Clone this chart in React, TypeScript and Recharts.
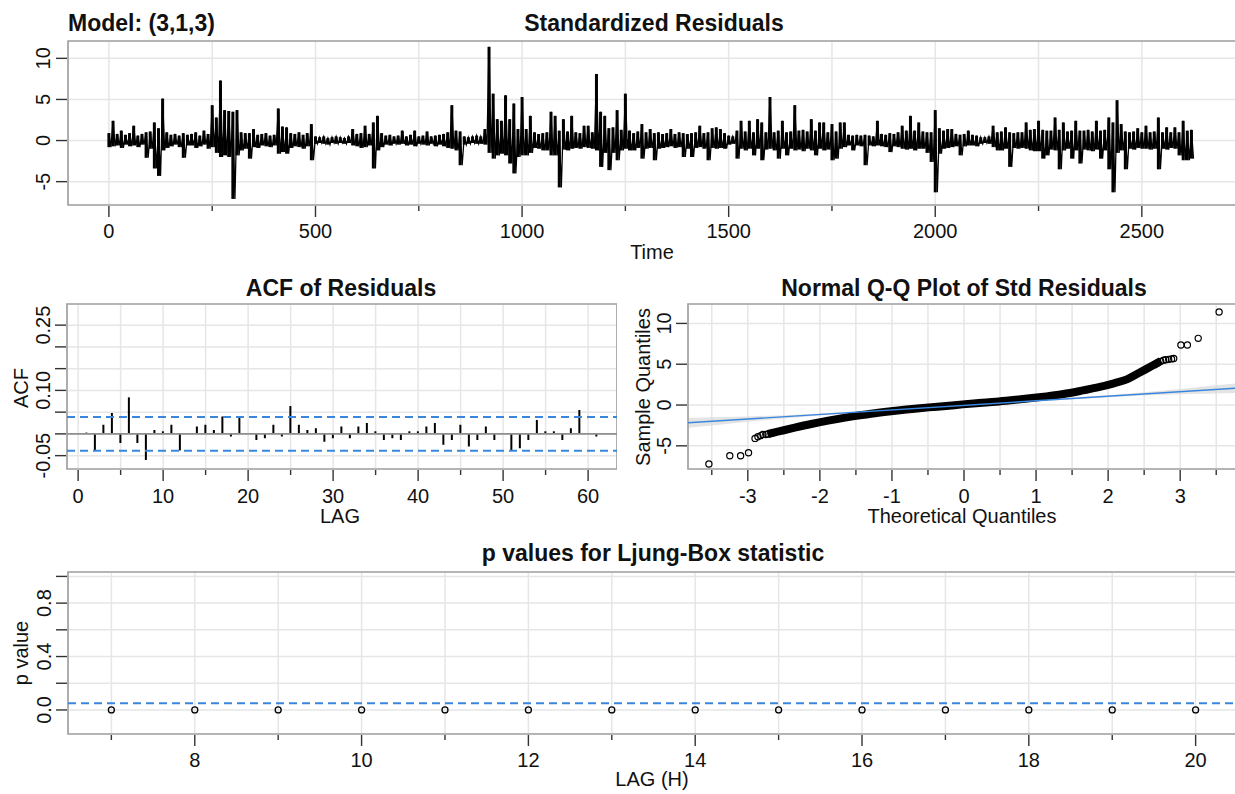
import React from "react";
import {
  ComposedChart,
  Line,
  Bar,
  Area,
  Scatter,
  XAxis,
  YAxis,
  CartesianGrid,
  ReferenceLine,
  ReferenceArea,
  ErrorBar,
} from "recharts";

const FONT = '"Liberation Sans", Arial, Helvetica, sans-serif';
const GRID = "#e6e6e6";
const BOX = "#a3a3a3";
const TICK = "#333333";
const TXT = "#111111";
const BLUE = "#3b86dd";

// ---------------- Standardized residuals (max / min per 10-step bin) ----------------
const residBinWidth = 10;
const residHigh = [
  0.9, 2.4, 0.8, 1.2, 0.7, 0.9, 1.8, 0.6, 0.8, 1.0,
  1.1, 2.2, 1.5, 5.1, 1.0, 0.7, 0.8, 0.6, 0.9, 0.7,
  0.8, 1.0, 0.6, 1.2, 0.8, 4.3, 2.8, 7.3, 3.7, 3.6,
  3.5, 3.7, 1.0, 0.9, 0.9, 1.4, 0.7, 0.8, 0.9, 0.6,
  0.7, 3.9, 1.7, 1.6, 0.9, 0.8, 1.0, 0.7, 0.9, 2.0,
  0.5, 0.4, 0.5, 0.3, 0.4, 0.5, 0.4, 0.3, 0.5, 1.4,
  0.8, 0.9, 1.8, 0.8, 2.2, 3.0, 0.9, 0.6, 0.7, 0.5,
  0.6, 1.2, 0.5, 0.7, 1.2, 0.5, 0.6, 1.1, 0.5, 0.6,
  0.7, 0.8, 1.0, 4.3, 1.2, 1.1, 0.5, 0.4, 0.5, 0.6,
  0.5, 1.4, 11.4, 5.7, 2.6, 2.4, 5.5, 2.6, 4.5, 1.4,
  5.3, 1.4, 3.0, 1.0, 0.8, 0.9, 1.0, 3.5, 3.0, 1.2,
  2.6, 1.1, 3.0, 1.0, 0.9, 1.8, 1.8, 1.0, 8.1, 3.5,
  3.0, 1.5, 1.6, 3.7, 1.3, 5.7, 1.2, 0.9, 1.1, 2.0,
  1.0, 1.4, 0.9, 1.0, 0.8, 0.9, 1.4, 0.8, 1.0, 0.9,
  0.8, 0.9, 1.0, 1.8, 0.9, 1.0, 1.5, 1.6, 1.4, 0.9,
  0.6, 0.5, 1.2, 2.4, 1.1, 2.4, 1.0, 2.6, 2.2, 1.0,
  5.3, 1.0, 1.2, 2.4, 1.0, 1.1, 4.3, 1.2, 1.3, 1.1,
  2.6, 1.2, 2.2, 2.2, 1.0, 2.0, 1.1, 2.2, 2.2, 0.7,
  0.6, 0.7, 0.6, 0.7, 0.6, 0.5, 2.4, 0.8, 0.7, 0.9,
  0.8, 1.0, 1.8, 1.2, 3.0, 1.2, 2.2, 1.1, 1.0, 1.0,
  3.7, 1.5, 1.2, 1.4, 1.4, 0.8, 0.7, 0.8, 1.2, 0.7,
  0.6, 0.4, 0.4, 0.5, 1.8, 1.0, 1.1, 1.6, 1.0, 0.9,
  1.0, 1.0, 2.2, 1.3, 1.4, 2.4, 1.3, 1.2, 1.2, 2.8,
  1.3, 2.2, 1.1, 1.2, 2.4, 1.2, 1.2, 1.3, 1.1, 2.4,
  1.2, 1.3, 2.8, 2.2, 4.9, 2.0, 1.1, 1.0, 1.1, 1.5,
  1.0, 1.8, 1.0, 1.1, 2.8, 1.0, 1.6, 1.0, 1.6, 1.0,
  2.4, 1.2, 1.3,
];
const residLow = [
  -0.8, -0.7, -0.6, -0.9, -0.5, -0.7, -0.6, -0.8, -0.5, -2.1,
  -1.0, -3.4, -4.3, -1.2, -0.9, -0.7, -0.5, -0.8, -2.1, -0.6,
  -0.6, -0.9, -0.7, -0.5, -1.0, -0.8, -1.5, -2.0, -1.8, -2.0,
  -7.1, -1.8, -1.2, -1.0, -2.2, -0.8, -0.9, -0.6, -0.7, -0.8,
  -0.6, -1.6, -1.4, -1.6, -0.9, -0.7, -0.8, -1.0, -0.7, -2.4,
  -0.4, -0.3, -0.4, -0.5, -0.3, -0.4, -0.3, -0.4, -0.3, -0.6,
  -0.7, -0.9, -0.8, -0.6, -3.4, -1.2, -0.8, -0.5, -0.6, -0.4,
  -0.5, -0.4, -0.6, -0.5, -0.7, -0.4, -0.5, -0.6, -0.4, -0.7,
  -0.5, -0.7, -0.9, -1.0, -1.2, -3.0, -0.5, -0.4, -0.3, -0.4,
  -0.4, -0.5, -1.5, -2.2, -1.8, -1.6, -1.8, -2.8, -4.0, -2.0,
  -1.8, -1.8, -1.5, -0.9, -1.0, -1.2, -1.2, -1.8, -1.8, -5.7,
  -1.1, -1.2, -1.0, -0.9, -1.0, -0.8, -0.9, -1.0, -1.2, -3.2,
  -1.5, -3.6, -1.5, -2.4, -1.2, -1.0, -1.2, -1.2, -0.9, -2.2,
  -1.0, -0.9, -2.4, -1.0, -0.9, -0.8, -0.7, -0.9, -0.8, -2.0,
  -1.0, -2.0, -0.9, -0.8, -1.0, -2.4, -0.9, -1.0, -0.9, -1.0,
  -0.5, -0.4, -2.2, -1.0, -1.2, -1.0, -1.8, -1.0, -2.4, -1.1,
  -1.0, -1.2, -2.2, -1.0, -1.8, -1.0, -1.2, -1.1, -1.3, -1.0,
  -1.2, -1.8, -1.0, -1.2, -1.1, -2.4, -2.2, -1.0, -0.8, -0.6,
  -1.2, -0.6, -0.7, -3.0, -0.6, -0.7, -0.6, -0.7, -0.8, -1.4,
  -0.7, -0.8, -1.0, -1.1, -1.0, -1.2, -1.0, -1.0, -1.5, -2.6,
  -6.3, -1.6, -1.0, -0.9, -0.8, -0.7, -1.8, -0.7, -0.6, -0.6,
  -0.7, -0.4, -0.3, -0.4, -0.8, -1.2, -1.2, -1.0, -3.2, -0.9,
  -1.0, -0.9, -1.0, -1.2, -1.3, -1.3, -2.2, -1.8, -1.1, -1.2,
  -3.5, -1.2, -1.0, -2.2, -1.2, -2.8, -1.1, -1.2, -1.3, -1.1,
  -2.2, -1.2, -3.5, -6.3, -1.5, -1.2, -3.5, -1.0, -1.1, -0.9,
  -1.0, -1.0, -1.1, -1.0, -3.5, -1.0, -1.1, -0.9, -1.0, -1.8,
  -2.4, -2.4, -2.2,
];
const residXTicks = [0, 250, 500, 750, 1000, 1250, 1500, 1750, 2000, 2250, 2500];
const residYTicks = [-5, 0, 5, 10];

// ---------------- ACF of residuals ----------------
const acfLags = [
  1, 2, 3, 4, 5, 6, 7, 8, 9, 10, 11, 12, 13, 14, 15, 16, 17, 18, 19, 20,
  21, 22, 23, 24, 25, 26, 27, 28, 29, 30, 31, 32, 33, 34, 35, 36, 37, 38, 39, 40,
  41, 42, 43, 44, 45, 46, 47, 48, 49, 50, 51, 52, 53, 54, 55, 56, 57, 58, 59, 60, 61,
];
const acfValues = [
  0.003, -0.037, 0.021, 0.048, -0.021, 0.084, -0.021, -0.06, 0.009, 0.006,
  0.021, -0.038, 0.001, 0.017, 0.021, 0.009, 0.04, -0.006, 0.04, 0.0,
  -0.014, -0.01, 0.021, -0.006, 0.064, 0.021, 0.009, 0.013, -0.018, -0.01,
  0.017, -0.01, 0.017, 0.025, 0.006, -0.014, -0.01, -0.014, 0.006, 0.006,
  0.017, 0.025, -0.025, -0.014, 0.021, -0.029, -0.014, 0.017, -0.014, 0.0,
  -0.038, -0.033, -0.014, 0.032, 0.006, 0.006, -0.014, 0.013, 0.055, 0.0, -0.006,
];
const acfBound = 0.039;
const acfXTicks = [0, 5, 10, 15, 20, 25, 30, 35, 40, 45, 50, 55, 60];
const acfYTicks = [-0.05, 0, 0.05, 0.1, 0.15, 0.2, 0.25];
const acfYLabels = ["-0.05", "", "", "0.10", "", "", "0.25"];

// ---------------- Normal Q-Q ----------------
const qqCurveTheo = [
  -2.72, -2.585, -2.35, -2.12, -1.885, -1.65, -1.42, -1.19, -0.95, -0.72, -0.49, -0.25,
  -0.02, 0.21, 0.445, 0.68, 0.91, 1.14, 1.38, 1.61, 1.84, 2.08, 2.26, 2.4, 2.52, 2.63, 2.73,
];
const qqCurveSample = [
  -3.55, -3.27, -2.78, -2.33, -1.92, -1.55, -1.23, -0.94, -0.69, -0.49, -0.29, -0.12,
  0.08, 0.25, 0.41, 0.61, 0.82, 1.06, 1.35, 1.72, 2.13, 2.66, 3.15, 3.8, 4.37, 4.9, 5.39,
];
const qqTailTheo = [
  -3.54, -3.25, -3.1, -2.99, -2.9, -2.86, -2.82, -2.79, -2.75, -2.72, -2.68, -2.65,
  2.65, 2.69, 2.73, 2.77, 2.8, 2.84, 2.88, 2.91, 3.01, 3.1, 3.25, 3.54,
];
const qqTailSample = [
  -7.23, -6.21, -6.21, -5.84, -4.09, -3.88, -3.75, -3.6, -3.62, -3.55, -3.5, -3.4,
  4.95, 5.15, 5.35, 5.5, 5.55, 5.6, 5.65, 5.7, 7.36, 7.36, 8.17, 11.4,
];
const qqEnvTheo = [-3.83, -3.5, -3.0, -2.5, -2.0, -1.0, 0, 1.0, 2.0, 2.5, 3.0, 3.5, 3.83];
const qqEnvLow = [-2.78, -2.5, -2.04, -1.64, -1.29, -0.68, -0.11, 0.44, 0.95, 1.16, 1.32, 1.42, 1.5];
const qqEnvHigh = [-1.58, -1.5, -1.4, -1.24, -1.03, -0.52, 0.03, 0.6, 1.21, 1.56, 1.96, 2.42, 2.7];
const qqLineTheo = [-3.83, 3.83];
const qqLineSample = [-2.18, 2.1];
const qqXTicks = [-3.5, -3, -2.5, -2, -1.5, -1, -0.5, 0, 0.5, 1, 1.5, 2, 2.5, 3, 3.5];
const qqYTicks = [-5, 0, 5, 10];

// ---------------- Ljung-Box p values ----------------
const lbLags = [7, 8, 9, 10, 11, 12, 13, 14, 15, 16, 17, 18, 19, 20];
const lbPValues = [0, 0, 0, 0, 0, 0, 0, 0, 0, 0, 0, 0, 0, 0];
const lbLevel = 0.05;
const lbYTicks = [0, 0.2, 0.4, 0.6, 0.8, 1.0];
const lbYLabels = ["0.0", "", "0.4", "", "0.8", ""];

// ---------------- built tables ----------------
// each bin: a point at its max, then a point at its min; the error bar spans the bin's range
const residData: { t: number; r: number; span: [number, number] }[] = [];
residHigh.forEach((h, i) => {
  residData.push({ t: i * residBinWidth, r: h, span: [h - residLow[i], 0] });
  residData.push({ t: i * residBinWidth + residBinWidth / 2, r: residLow[i], span: [0, 0] });
});
const acfData = acfLags.map((lag, i) => ({ lag, acf: acfValues[i] }));
const qqCurve = qqCurveTheo.map((x, i) => ({ x, y: qqCurveSample[i] }));
const qqTail = qqTailTheo.map((x, i) => ({ x, y: qqTailSample[i] }));
const qqEnv = qqEnvTheo.map((x, i) => ({ x, band: [qqEnvLow[i], qqEnvHigh[i]] }));
const qqLine = qqLineTheo.map((x, i) => ({ x, y: qqLineSample[i] }));
const lbData = lbLags.map((lag, i) => ({ lag, p: lbPValues[i] }));

// ---------------- tick renderers ----------------
const findLabel = (ticks: number[], labels: string[], v: number) => {
  const i = ticks.findIndex((t) => Math.abs(t - v) < 1e-9);
  return i >= 0 ? labels[i] : "";
};

const makeXTick =
  (labelOf: (v: number) => string, lenOf: (v: number) => number, dy = 33) =>
  (props: any) => {
    const { x, y, payload } = props;
    const v = payload.value;
    const lab = labelOf(v);
    return (
      <g>
        <line x1={x} x2={x} y1={y + 1} y2={y + 1 + lenOf(v)} stroke={TICK} strokeWidth={1.4} />
        {lab !== "" && (
          <text x={x} y={y + dy} textAnchor="middle" fontSize={20} fontFamily={FONT} fill={TXT}>
            {lab}
          </text>
        )}
      </g>
    );
  };

const makeYTick =
  (labelOf: (v: number) => string, len = 11, gap = 18) =>
  (props: any) => {
    const { x, y, payload } = props;
    const v = payload.value;
    const lab = labelOf(v);
    const bx = x - gap;
    return (
      <g>
        <line x1={x - 1} x2={x - 1 - len} y1={y} y2={y} stroke={TICK} strokeWidth={1.4} />
        {lab !== "" && (
          <text
            x={bx}
            y={y}
            transform={`rotate(-90 ${bx} ${y})`}
            textAnchor="middle"
            fontSize={20}
            fontFamily={FONT}
            fill={TXT}
          >
            {lab}
          </text>
        )}
      </g>
    );
  };

const axisCommon = {
  tickSize: 0,
  tickMargin: 0,
  axisLine: false,
  tickLine: false,
  interval: 0 as const,
  allowDataOverflow: true,
};

const abs = (left: number, top: number): React.CSSProperties => ({
  position: "absolute",
  left,
  top,
});

function ResidPanel() {
  const xd: [number, number] = [-99, 2740];
  const yd: [number, number] = [-7.84, 12.11];
  return (
    <div style={abs(0, 38)}>
      <ComposedChart width={1241} height={207} data={residData} margin={{ top: 3, right: 0, bottom: 0, left: 0 }}>
        <CartesianGrid stroke={GRID} strokeWidth={1.5} />
        <XAxis
          {...axisCommon}
          dataKey="t"
          type="number"
          domain={xd}
          ticks={residXTicks}
          height={40}
          tick={makeXTick((v) => (v % 500 === 0 ? String(v) : ""), (v) => (v % 500 === 0 ? 11 : 5))}
        />
        <YAxis
          {...axisCommon}
          type="number"
          domain={yd}
          ticks={residYTicks}
          width={68}
          tick={makeYTick((v) => String(v))}
        />
        <Line dataKey="r" stroke="#000" strokeWidth={1.3} dot={false} isAnimationActive={false}>
          <ErrorBar dataKey="span" direction="y" width={0} stroke="#000" strokeWidth={3} />
        </Line>
        <ReferenceArea x1={xd[0]} x2={xd[1]} y1={yd[0]} y2={yd[1]} fill="none" stroke={BOX} strokeWidth={1.7} />
      </ComposedChart>
    </div>
  );
}

function AcfPanel() {
  const xd: [number, number] = [-1.31, 63.4];
  const yd: [number, number] = [-0.0807, 0.2986];
  return (
    <div style={abs(0, 302)}>
      <ComposedChart width={617} height={207} data={acfData} margin={{ top: 2, right: 0, bottom: 0, left: 0 }}>
        <CartesianGrid stroke={GRID} strokeWidth={1.5} />
        <XAxis
          {...axisCommon}
          dataKey="lag"
          type="number"
          domain={xd}
          ticks={acfXTicks}
          height={40}
          tick={makeXTick((v) => (v % 10 === 0 ? String(v) : ""), (v) => (v % 10 === 0 ? 11 : 5), 34)}
        />
        <YAxis
          {...axisCommon}
          type="number"
          domain={yd}
          ticks={acfYTicks}
          width={67}
          tick={makeYTick((v) => findLabel(acfYTicks, acfYLabels, v), 11, 17)}
        />
        <ReferenceLine y={0} stroke="#8f8f8f" strokeWidth={1.6} />
        <Bar dataKey="acf" fill="#000" barSize={2} isAnimationActive={false} />
        <ReferenceLine y={acfBound} stroke={BLUE} strokeWidth={2} strokeDasharray="8 5" />
        <ReferenceLine y={-acfBound} stroke={BLUE} strokeWidth={2} strokeDasharray="8 5" />
        <ReferenceArea x1={xd[0]} x2={xd[1]} y1={yd[0]} y2={yd[1]} fill="none" stroke={BOX} strokeWidth={1.7} />
      </ComposedChart>
    </div>
  );
}

function QQPanel() {
  const xd: [number, number] = [-3.83, 3.83];
  const yd: [number, number] = [-7.84, 12.38];
  const circle = (p: any) => (
    <circle cx={p.cx} cy={p.cy} r={3.1} fill="none" stroke="#000" strokeWidth={1.2} />
  );
  return (
    <div style={abs(620, 302)}>
      <ComposedChart width={620} height={207} margin={{ top: 2, right: 0, bottom: 0, left: 0 }}>
        <CartesianGrid stroke={GRID} strokeWidth={1.5} />
        <XAxis
          {...axisCommon}
          dataKey="x"
          type="number"
          domain={xd}
          ticks={qqXTicks}
          height={40}
          tick={makeXTick(
            (v) => (Number.isInteger(v) ? String(v) : ""),
            (v) => (Number.isInteger(v) ? 11 : 5),
            34
          )}
        />
        <YAxis
          {...axisCommon}
          type="number"
          domain={yd}
          ticks={qqYTicks}
          width={68}
          tick={makeYTick((v) => String(v), 11, 17)}
        />
        <Area
          data={qqEnv}
          dataKey="band"
          stroke="none"
          fill="#d9d9d9"
          fillOpacity={0.7}
          isAnimationActive={false}
        />
        <Line
          data={qqCurve}
          dataKey="y"
          type="monotone"
          stroke="#000"
          strokeWidth={8}
          dot={false}
          isAnimationActive={false}
        />
        <Scatter data={qqTail} dataKey="y" shape={circle} isAnimationActive={false} />
        <Line data={qqLine} dataKey="y" stroke={BLUE} strokeWidth={1.4} dot={false} isAnimationActive={false} />
        <ReferenceArea x1={xd[0]} x2={xd[1]} y1={yd[0]} y2={yd[1]} fill="none" stroke={BOX} strokeWidth={1.7} />
      </ComposedChart>
    </div>
  );
}

function LBPanel() {
  const xd: [number, number] = [6.48, 20.52];
  const yd: [number, number] = [-0.18, 1.033];
  return (
    <div style={abs(0, 570)}>
      <ComposedChart width={1239} height={204} data={lbData} margin={{ top: 2, right: 0, bottom: 0, left: 0 }}>
        <CartesianGrid stroke={GRID} strokeWidth={1.5} />
        <XAxis
          {...axisCommon}
          dataKey="lag"
          type="number"
          domain={xd}
          ticks={lbLags}
          height={40}
          tick={makeXTick((v) => (v % 2 === 0 ? String(v) : ""), (v) => (v % 2 === 0 ? 11 : 5), 33)}
        />
        <YAxis
          {...axisCommon}
          type="number"
          domain={yd}
          ticks={lbYTicks}
          width={68}
          tick={makeYTick((v) => findLabel(lbYTicks, lbYLabels, v), 11, 17)}
        />
        <ReferenceLine y={lbLevel} stroke={BLUE} strokeWidth={2} strokeDasharray="8 5" />
        <Line
          dataKey="p"
          stroke="none"
          dot={{ r: 3, fill: "none", stroke: "#000", strokeWidth: 1.3 }}
          isAnimationActive={false}
        />
        <ReferenceArea x1={xd[0]} x2={xd[1]} y1={yd[0]} y2={yd[1]} fill="none" stroke={BOX} strokeWidth={1.7} />
      </ComposedChart>
    </div>
  );
}

export default function App() {
  return (
    <div
      style={{
        position: "absolute",
        left: 0,
        top: 0,
        width: 1235,
        height: 794,
        overflow: "hidden",
        background: "#fff",
        fontFamily: FONT,
      }}
    >
      <ResidPanel />
      <AcfPanel />
      <QQPanel />
      <LBPanel />
      <svg
        width={1235}
        height={794}
        style={{ position: "absolute", left: 0, top: 0, pointerEvents: "none" }}
        fontFamily={FONT}
        fill={TXT}
      >
        <text x={68} y={31} fontSize={23} fontWeight="bold">Model: (3,1,3)</text>
        <text x={654} y={31} fontSize={23} fontWeight="bold" textAnchor="middle">Standardized Residuals</text>
        <text x={652} y={259} fontSize={20} textAnchor="middle">Time</text>

        <text x={341} y={296} fontSize={23} fontWeight="bold" textAnchor="middle">ACF of Residuals</text>
        <text x={340} y={523} fontSize={20} textAnchor="middle">LAG</text>
        <text x={28} y={388} fontSize={20} textAnchor="middle" transform="rotate(-90 28 388)">ACF</text>

        <text x={964} y={296} fontSize={23} fontWeight="bold" textAnchor="middle">Normal Q-Q Plot of Std Residuals</text>
        <text x={962} y={523} fontSize={20} textAnchor="middle">Theoretical Quantiles</text>
        <text x={650} y={387} fontSize={20} textAnchor="middle" transform="rotate(-90 650 387)">Sample Quantiles</text>

        <text x={653} y={561} fontSize={23} fontWeight="bold" textAnchor="middle">p values for Ljung-Box statistic</text>
        <text x={652} y={786} fontSize={20} textAnchor="middle">LAG (H)</text>
        <text x={28} y={653} fontSize={20} textAnchor="middle" transform="rotate(-90 28 653)">p value</text>
      </svg>
    </div>
  );
}
